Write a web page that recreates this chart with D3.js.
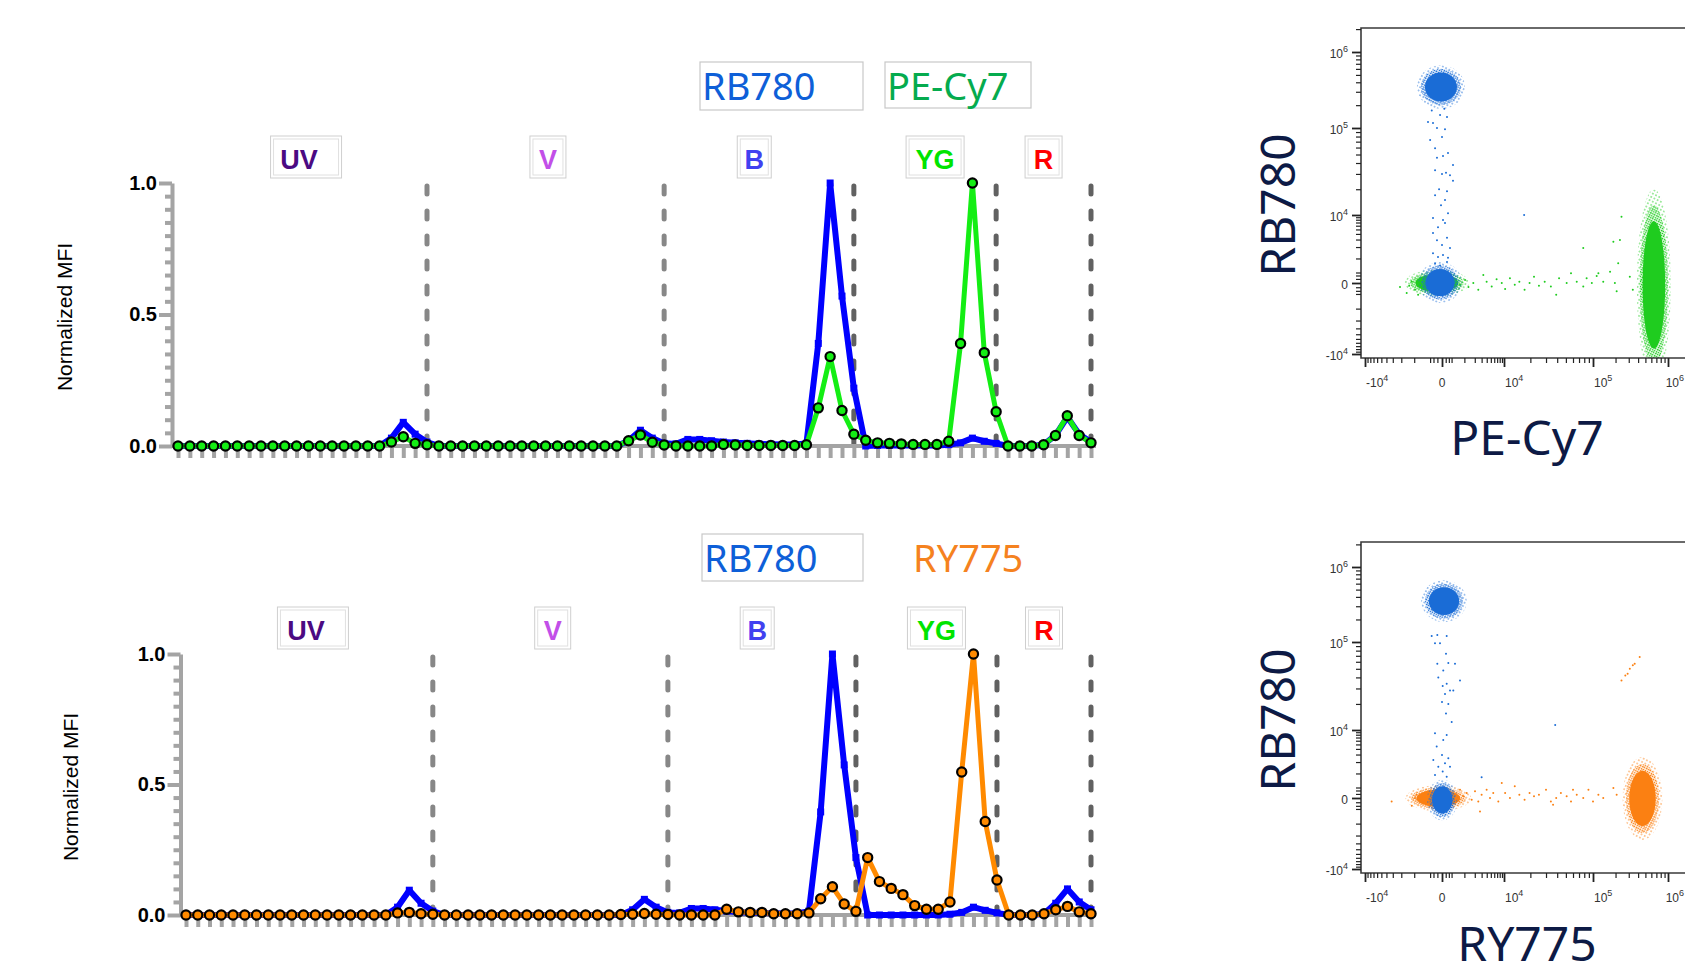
<!DOCTYPE html>
<html lang="en">
<head>
<meta charset="utf-8">
<title>RB780 spectral signature</title>
<script src="https://cdn.jsdelivr.net/npm/d3@7"></script>
<style>
  body { margin: 0; background: #fff; }
  svg { display: block; font-family: Arial, "Liberation Sans", sans-serif; }
</style>
</head>
<body>
<svg id="chart" width="1685" height="976"></svg>
<script>
// ---- data ----
var lasers = ['UV', 'V', 'B', 'YG', 'R'];
var laserSizes = [22, 20, 16, 12, 8];          // detectors per laser
var laserColors = ['#4b0a82', '#c24fe8', '#4141f0', '#00e400', '#ff0000'];

// normalized MFI per detector (UV | V | B | YG | R)
var rb780Top = [0,0,0,0,0,0,0,0,0,0,0,0,0,0,0,0,0,0,0.03,0.09,0.045,0.015,
  0,0,0,0,0,0,0,0,0,0,0,0,0,0,0,0,0.02,0.06,0.03,0.01,
  0.008,0.025,0.025,0.02,0.015,0.012,0.01,0.008,0.007,0.006,0.006,0.01,0.39,1.0,0.57,0.22,
  0,0.002,0.002,0.002,0.002,0.002,0.002,0.005,0.012,0.03,0.018,0.01,
  0,0,0,0.005,0.04,0.11,0.045,0.015];
var peCy7 = [0,0,0,0,0,0,0,0,0,0,0,0,0,0,0,0,0,0,0.015,0.035,0.01,0.005,
  0,0,0,0,0,0,0,0,0,0,0,0,0,0,0,0,0.02,0.042,0.014,0.004,
  0,0,0,0,0.006,0.004,0.002,0.002,0.002,0.002,0.002,0.005,0.145,0.34,0.135,0.045,
  0.022,0.012,0.01,0.008,0.006,0.006,0.006,0.018,0.39,1.0,0.355,0.13,
  0,0,0,0.005,0.04,0.115,0.04,0.012];
var rb780Bottom = [0,0,0,0,0,0,0,0,0,0,0,0,0,0,0,0,0,0,0.03,0.095,0.045,0.015,
  0,0,0,0,0,0,0,0,0,0,0,0,0,0,0,0,0.02,0.06,0.03,0.01,
  0.008,0.025,0.025,0.02,0.015,0.01,0.01,0.008,0.007,0.006,0.006,0.015,0.395,1.0,0.575,0.22,
  0,0,0,0,0,0,0,0.003,0.01,0.03,0.018,0.008,
  0,0,0,0.005,0.045,0.1,0.05,0.02];
var ry775 = [0,0,0,0,0,0,0,0,0,0,0,0,0,0,0,0,0,0,0.008,0.01,0.005,0.003,
  0,0,0,0,0,0,0,0,0,0,0,0,0,0,0,0.002,0.003,0.006,0.003,0.002,
  0,0,0,0,0.022,0.012,0.01,0.01,0.005,0.005,0.005,0.008,0.062,0.108,0.042,0.014,
  0.22,0.128,0.102,0.078,0.036,0.022,0.022,0.05,0.548,1.0,0.358,0.134,
  0,0,0,0.005,0.02,0.033,0.012,0.005];

// flow plots: tick values and events [x, y]
var scatterTicks = [-1e4, 0, 1e4, 1e5, 1e6];
// dense populations: [xMin, xMax, yMin, yMax]
var topBlueClusters = [[-650, 770, 2.0e5, 6.0e5], [-613, 613, -515, 594]];
var topGreenClusters = [[-1270, 960, -300, 320], [4.2e5, 1.0e6, -1.6e4, 1.3e4]];
var bottomBlueClusters = [[-480, 900, 2.06e5, 6.0e5], [-320, 446, -630, 480]];
var bottomOrangeClusters = [[-1200, 1100, -300, 300], [2.75e5, 7.6e5, -1750, 1800]];

var topBlueEvents = [[-370,1.2e5],[-214,1.16e5],[-110,1.0e5],[79,9.7e4],[-40,1.48e5],[139,1.4e5],
  [-250,1.7e5],[60,1.8e5],[-300,7.3e4],[0,7.9e4],[-158,5.9e4],[-110,4.6e4],[25,4.8e4],[172,5.2e4],
  [358,3.8e4],[-158,3.3e4],[0,3.0e4],[108,3.1e4],[240,2.9e4],[358,2.5e4],[-61,2.0e4],[139,1.9e4],
  [-158,1.7e4],[79,1.5e4],[-20,1.3e4],[172,1.05e4],[-214,8700],[25,7900],[-85,5600],[79,6800],
  [-214,4200],[-110,2900],[139,3300],[0,2250],[240,1900],[-214,1400],[-85,1100],[25,1250],
  [172,1050],[-158,710],[-40,600],[139,780],[1.7e4,1.0e4]];
var topGreenEvents = [[-2130,-93],[-1520,-270],[-1150,30],[-950,-166],[-785,-327],[-1330,-61],
  [710,-38],[1050,72],[1330,-93],[1830,0],[2470,-166],[3300,215],[3980,30],[5240,-78],[6800,90],
  [8900,0],[1.03e4,-148],[1.17e4,117],[1.33e4,-38],[1.5e4,30],[1.72e4,-166],[1.96e4,0],[2.2e4,165],
  [2.5e4,-61],[2.9e4,30],[3.4e4,-78],[3.9e4,-327],[4.2e4,117],[5.1e4,0],[5.7e4,270],[6.6e4,30],
  [7.8e4,-78],[8.5e4,117],[9.7e4,0],[1.12e5,185],[1.18e5,270],[1.37e5,30],[1.69e5,330],[1.96e5,0],
  [2.07e5,-216],[2.17e5,710],[2.29e5,2930],[1.87e5,2680],[2.4e5,9250],[7.8e4,1900],[3.1e5,165],
  [3.4e5,-166]];
var bottomBlueEvents = [[-252,1.2e5],[-102,1.24e5],[-41,9.7e4],[-160,9.7e4],[130,1.2e5],[108,7.4e4],
  [-102,5.7e4],[182,5.8e4],[446,5.7e4],[32,4.8e4],[-79,4.0e4],[17,3.2e4],[130,3.4e4],[710,3.7e4],
  [79,2.6e4],[241,2.85e4],[371,2.85e4],[0,2.1e4],[182,2.0e4],[108,1.55e4],[305,1.24e4],[-160,8600],
  [130,7900],[32,6200],[-117,4500],[0,2930],[182,2470],[-205,2240],[79,1860],[-79,1530],[241,1530],
  [17,1130],[-160,900],[130,800],[3000,760],[3.8e4,1.14e4]];
var bottomOrangeEvents = [[-3160,-78],[-1150,-195],[-860,80],[-690,-78],[-950,0],[710,225],[925,40],
  [1180,126],[1650,-38],[2030,175],[2470,-78],[2730,-389],[3000,80],[3980,225],[4780,0],[5700,126],
  [7440,-78],[8900,480],[1.03e4,126],[1.17e4,0],[1.33e4,345],[1.5e4,80],[1.72e4,-38],[1.96e4,126],
  [2.2e4,40],[2.5e4,80],[3.0e4,225],[3.4e4,-78],[3.6e4,-166],[3.9e4,0],[4.4e4,126],[5.1e4,40],
  [5.7e4,-78],[6.0e4,225],[6.6e4,80],[7.8e4,0],[8.9e4,225],[1.0e5,-78],[1.18e5,80],[1.37e5,0],
  [1.87e5,283],[2.07e5,80],
  [2.4e5,3.7e4],[2.7e5,4.2e4],[2.9e5,4.4e4],[3.1e5,5.0e4],[3.4e5,5.5e4],[3.6e5,5.7e4],[4.2e5,6.8e4]];

// ---- layout ----
var W = 1685, H = 976;
var spectraLayout = [
  {x0: 178, x1: 1091, axisX: 172, yTop: 183, yBase: 446, titleX: 64, titleY: 317},
  {x0: 186, x1: 1091, axisX: 180.5, yTop: 654, yBase: 915, titleX: 70, titleY: 787}
];
var labelAt = [10.8, 31.2, 48.6, 63.85, 73.0];   // label centres, in detector units
var labelBoxW = [71, 36, 34, 58, 37];
var labelDx = [-7, 0, 0, 0, 0];
var legendLayout = [
  [{x: 700, y: 62, w: 163, h: 48, box: true}, {x: 885, y: 62, w: 146, h: 46, box: true}],
  [{x: 702, y: 534, w: 161, h: 47, box: true}, {x: 911, y: 534, w: 0, h: 47, box: false}]
];
var scatterLayout = [
  {left: 1361, top: 28, bottom: 358, xRange: [1365, 1442, 1504, 1593, 1668],
   yRange: [354, 283, 215, 128, 52], yTitle: [1278, 205], xTitle: [1527, 455]},
  {left: 1361, top: 542, bottom: 873, xRange: [1365, 1442, 1504, 1593, 1668],
   yRange: [869, 798, 730, 642, 567], yTitle: [1278, 720], xTitle: [1527, 961]}
];

var detectors = [];
lasers.forEach(function (l, k) {
  for (var j = 1; j <= laserSizes[k]; j++) detectors.push(l + j);
});
var laserEnds = d3.cumsum(laserSizes).map(function (c) { return c - 1; });

var svg = d3.select('#chart');
svg.append('rect').attr('width', W).attr('height', H).attr('fill', '#fff');
var defs = svg.append('defs');

// ---- spectra panels ----
function drawSpectra(L, series, legendNames, legendColors, legendBoxes) {
  var g = svg.append('g');
  var x = d3.scaleLinear().domain([0, detectors.length - 1]).range([L.x0, L.x1]);
  var y = d3.scaleLinear().domain([0, 1]).range([L.yBase, L.yTop]);

  // laser dividers
  g.selectAll('.divider').data(laserEnds).enter().append('line')
    .attr('x1', function (d) { return x(d); }).attr('x2', function (d) { return x(d); })
    .attr('y1', y(1) + 3).attr('y2', y(0))
    .attr('stroke', function (d, i) { return i < 2 ? '#878787' : '#616161'; })
    .attr('stroke-width', 5).attr('stroke-linecap', 'round')
    .attr('stroke-dasharray', '8,17');

  // x ticks and baseline
  var xa = g.append('g').attr('transform', 'translate(0,' + L.yBase + ')')
    .call(d3.axisBottom(x).tickValues(d3.range(detectors.length)).tickSize(12).tickFormat(''));
  xa.select('.domain').remove();
  xa.selectAll('line').attr('stroke', '#a4a4a4').attr('stroke-width', 4);
  g.append('line').attr('x1', L.axisX).attr('x2', L.x1 + 5)
    .attr('y1', L.yBase).attr('y2', L.yBase)
    .attr('stroke', '#a4a4a4').attr('stroke-width', 4);

  // y axis
  var minor = d3.range(1, 20).filter(function (i) { return i !== 10; }).map(function (i) { return i / 20; });
  var ym = g.append('g').attr('transform', 'translate(' + L.axisX + ',0)')
    .call(d3.axisLeft(y).tickValues(minor).tickSize(7).tickFormat(''));
  ym.select('.domain').remove();
  ym.selectAll('line').attr('stroke', '#a4a4a4').attr('stroke-width', 4);
  var yM = g.append('g').attr('transform', 'translate(' + L.axisX + ',0)')
    .call(d3.axisLeft(y).tickValues([0, 0.5, 1]).tickSize(13).tickSizeOuter(0).tickPadding(2)
      .tickFormat(d3.format('.1f')));
  yM.select('.domain').attr('stroke', '#a4a4a4').attr('stroke-width', 4);
  yM.selectAll('line').attr('stroke', '#a4a4a4').attr('stroke-width', 4);
  yM.selectAll('text').attr('font-family', 'Arial, "Liberation Sans", sans-serif')
    .attr('font-size', 20).attr('font-weight', 'bold').attr('fill', '#000');

  g.append('text')
    .attr('transform', 'translate(' + L.titleX + ',' + L.titleY + ') rotate(-90)')
    .attr('text-anchor', 'middle').attr('dy', '0.36em')
    .attr('font-size', 21).attr('fill', '#000').text('Normalized MFI');

  // laser labels
  lasers.forEach(function (name, i) {
    var cx = x(labelAt[i]), w = labelBoxW[i];
    g.append('rect').attr('x', cx - w / 2).attr('y', L.yTop - 47).attr('width', w).attr('height', 42)
      .attr('fill', '#fff').attr('stroke', '#cfcfcf').attr('stroke-width', 1);
    g.append('rect').attr('x', cx - w / 2 + 3).attr('y', L.yTop - 44).attr('width', w - 6).attr('height', 36)
      .attr('fill', 'none').attr('stroke', '#e0e0e0').attr('stroke-width', 1);
    g.append('text').attr('x', cx + labelDx[i]).attr('y', L.yTop - 14)
      .attr('text-anchor', 'middle').attr('font-size', 27).attr('font-weight', 'bold')
      .attr('fill', laserColors[i]).text(name);
  });

  // series
  var line = d3.line().x(function (d, i) { return x(i); }).y(function (d) { return y(d); });
  series.forEach(function (s) {
    g.append('path').datum(s.values).attr('d', line)
      .attr('fill', 'none').attr('stroke', s.color).attr('stroke-width', s.width)
      .attr('stroke-linejoin', 'round');
    if (s.marker === 'square') {
      g.selectAll(null).data(s.values).enter().append('rect')
        .attr('x', function (d, i) { return x(i) - 3.5; })
        .attr('y', function (d) { return y(d) - 3.5; })
        .attr('width', 7).attr('height', 7).attr('fill', s.color);
    } else {
      g.selectAll(null).data(s.values).enter().append('circle')
        .attr('cx', function (d, i) { return x(i); })
        .attr('cy', function (d) { return y(d); })
        .attr('r', 4.6).attr('fill', s.color).attr('stroke', '#000').attr('stroke-width', 2.2);
    }
  });

  // fluorochrome names
  legendNames.forEach(function (name, i) {
    var b = legendBoxes[i];
    if (b.box) {
      g.append('rect').attr('x', b.x).attr('y', b.y).attr('width', b.w).attr('height', b.h)
        .attr('fill', 'none').attr('stroke', '#c8c8c8').attr('stroke-width', 1.2);
    }
    g.append('text').attr('x', b.x + 2).attr('y', b.y + 38)
      .attr('font-family', '"Noto Sans", "Open Sans", sans-serif').attr('font-size', 38)
      .attr('fill', legendColors[i]).text(name);
  });
}

drawSpectra(spectraLayout[0], [
  {values: rb780Top, color: '#0000ff', width: 6, marker: 'square'},
  {values: peCy7, color: '#14ee14', width: 5, marker: 'circle'}
], ['RB780', 'PE-Cy7'], ['#0e5fd8', '#05ab4e'], legendLayout[0]);

drawSpectra(spectraLayout[1], [
  {values: rb780Bottom, color: '#0000ff', width: 6, marker: 'square'},
  {values: ry775, color: '#ff8a00', width: 5, marker: 'circle'}
], ['RB780', 'RY775'], ['#0e5fd8', '#f5821f'], legendLayout[1]);

// ---- dot plots ----
function speckle(id, color, step, r) {
  var p = defs.append('pattern').attr('id', id).attr('patternUnits', 'userSpaceOnUse')
    .attr('width', step).attr('height', step).attr('patternTransform', 'rotate(27)');
  p.append('circle').attr('cx', step / 2).attr('cy', step / 2).attr('r', r).attr('fill', color);
}
var popColors = {blue: '#1a6cd6', green: '#1fcc1f', orange: '#fb8012'};
Object.keys(popColors).forEach(function (k) {
  speckle('sparse-' + k, popColors[k], 3.6, 0.75);
  speckle('dense-' + k, popColors[k], 2.2, 0.8);
});

function powerLabel(t, v) {
  if (v === 0) { t.text('0'); return; }
  t.append('tspan').text((v < 0 ? '-' : '') + '10');
  t.append('tspan').attr('dy', -6).attr('font-size', 9)
    .text(Math.round(Math.log10(Math.abs(v))));
}

function drawScatter(S, pops, yTitle, xTitle, k) {
  var g = svg.append('g');
  var x = d3.scaleSymlog().constant(500).domain(scatterTicks).range(S.xRange);
  var y = d3.scaleSymlog().constant(500).domain(scatterTicks).range(S.yRange);

  defs.append('clipPath').attr('id', 'frame' + k).append('rect')
    .attr('x', S.left).attr('y', S.top).attr('width', W - S.left).attr('height', S.bottom - S.top);
  var plot = g.append('g').attr('clip-path', 'url(#frame' + k + ')');

  pops.forEach(function (p) {
    var color = popColors[p.key];
    p.clusters.forEach(function (c) {
      var cx = (x(c[0]) + x(c[1])) / 2, rx = Math.abs(x(c[1]) - x(c[0])) / 2;
      var cy = (y(c[2]) + y(c[3])) / 2, ry = Math.abs(y(c[3]) - y(c[2])) / 2;
      [[1.2, 'url(#sparse-' + p.key + ')'], [1.0, 'url(#dense-' + p.key + ')'], [0.8, color]]
        .forEach(function (layer) {
          plot.append('ellipse').attr('cx', cx).attr('cy', cy)
            .attr('rx', rx * layer[0]).attr('ry', ry * layer[0]).attr('fill', layer[1]);
        });
    });
    plot.selectAll(null).data(p.events).enter().append('circle')
      .attr('cx', function (d) { return x(d[0]); })
      .attr('cy', function (d) { return y(d[1]); })
      .attr('r', 1).attr('fill', color);
  });

  // frame
  g.append('path')
    .attr('d', 'M' + W + ',' + S.top + 'H' + S.left + 'V' + S.bottom + 'H' + W)
    .attr('fill', 'none').attr('stroke', '#3a3a3a').attr('stroke-width', 1.6);

  var minor = [].concat(d3.range(-9000, 0, 1000), [-300, -200, -100, 100, 200, 300],
    d3.range(1000, 10000, 1000), d3.range(2e4, 1e5, 1e4), d3.range(2e5, 1e6, 1e5), [2e6]);
  var yMinor = minor.filter(function (v) { return y(v) >= S.top && y(v) <= S.bottom; });
  var xMinor = minor.filter(function (v) { return x(v) >= S.left && x(v) <= W; });

  function styleTicks(a, w) {
    a.select('.domain').remove();
    a.selectAll('line').attr('stroke', '#222').attr('stroke-width', w);
  }
  styleTicks(g.append('g').attr('transform', 'translate(' + S.left + ',0)')
    .call(d3.axisLeft(y).tickValues(yMinor).tickSize(5).tickFormat('')), 1.2);
  styleTicks(g.append('g').attr('transform', 'translate(' + S.left + ',0)')
    .call(d3.axisLeft(y).tickValues(scatterTicks).tickSize(9).tickFormat('')), 1.8);
  styleTicks(g.append('g').attr('transform', 'translate(0,' + S.bottom + ')')
    .call(d3.axisBottom(x).tickValues(xMinor).tickSize(5).tickFormat('')), 1.2);
  styleTicks(g.append('g').attr('transform', 'translate(0,' + S.bottom + ')')
    .call(d3.axisBottom(x).tickValues(scatterTicks).tickSize(9).tickFormat('')), 1.8);

  scatterTicks.forEach(function (v) {
    powerLabel(g.append('text').attr('x', S.left - 13).attr('y', y(v) + 6)
      .attr('text-anchor', 'end').attr('font-size', 12).attr('fill', '#333'), v);
    // the last x label would run past the page edge, so it is pulled back to end there
    var xl = g.append('text').attr('y', S.bottom + 29).attr('font-size', 12).attr('fill', '#333');
    if (v === 0) xl.attr('x', x(v)).attr('text-anchor', 'middle');
    else if (x(v) + 20 > W) xl.attr('x', W - 1).attr('text-anchor', 'end');
    else xl.attr('x', x(v) + 1).attr('text-anchor', 'start');
    powerLabel(xl, v);
  });

  g.append('text')
    .attr('transform', 'translate(' + S.yTitle[0] + ',' + S.yTitle[1] + ') rotate(-90)')
    .attr('text-anchor', 'middle').attr('dy', '0.36em')
    .attr('font-family', '"Noto Sans", "Open Sans", sans-serif').attr('font-size', 48)
    .attr('fill', '#0d1a45').text(yTitle);
  g.append('text').attr('x', S.xTitle[0]).attr('y', S.xTitle[1])
    .attr('text-anchor', 'middle')
    .attr('font-family', '"Noto Sans", "Open Sans", sans-serif').attr('font-size', 48)
    .attr('fill', '#0d1a45').text(xTitle);
}

drawScatter(scatterLayout[0], [
  {key: 'green', clusters: topGreenClusters, events: topGreenEvents},
  {key: 'blue', clusters: topBlueClusters, events: topBlueEvents}
], 'RB780', 'PE-Cy7', 0);

drawScatter(scatterLayout[1], [
  {key: 'orange', clusters: bottomOrangeClusters, events: bottomOrangeEvents},
  {key: 'blue', clusters: bottomBlueClusters, events: bottomBlueEvents}
], 'RB780', 'RY775', 1);
</script>
</body>
</html>
